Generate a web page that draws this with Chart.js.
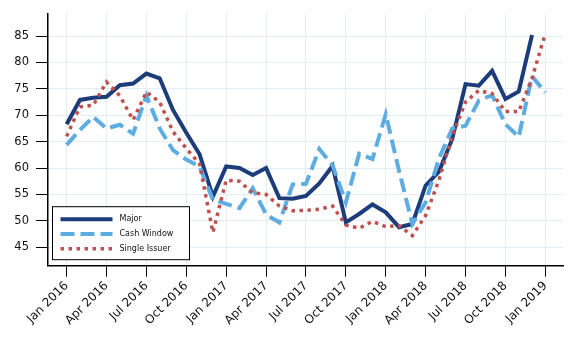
<!DOCTYPE html>
<html>
<head>
<meta charset="utf-8">
<script src="https://cdn.jsdelivr.net/npm/chart.js@4/dist/chart.umd.min.js"></script>
<style>
  html, body { margin: 0; padding: 0; background: #fff; }
  canvas { display: block; }
</style>
</head>
<body>
<canvas id="chart" width="577" height="338"></canvas>
<script>
// ===== Data =====
const months = [
  "Jan 2016","Feb 2016","Mar 2016","Apr 2016","May 2016","Jun 2016","Jul 2016","Aug 2016","Sep 2016","Oct 2016","Nov 2016","Dec 2016",
  "Jan 2017","Feb 2017","Mar 2017","Apr 2017","May 2017","Jun 2017","Jul 2017","Aug 2017","Sep 2017","Oct 2017","Nov 2017","Dec 2017",
  "Jan 2018","Feb 2018","Mar 2018","Apr 2018","May 2018","Jun 2018","Jul 2018","Aug 2018","Sep 2018","Oct 2018","Nov 2018","Dec 2018",
  "Jan 2019"
];
const major = [68.3, 72.9, 73.3, 73.5, 75.7, 76.0, 77.9, 77.0, 71.0, 66.7, 62.6, 54.6,
  60.3, 60.0, 58.7, 60.0, 54.3, 54.2, 54.7, 57.1, 60.4, 49.7, 51.3, 53.1,
  51.6, 48.8, 49.4, 56.7, 59.3, 65.5, 75.9, 75.6, 78.4, 73.1, 74.5, 85.2, null];
const cashWindow = [64.4, 67.2, 69.7, 67.5, 68.2, 66.5, 73.7, 67.5, 63.4, 61.6, 60.3, 54.0,
  53.2, 52.4, 56.2, 51.2, 49.7, 56.9, 57.0, 63.6, 60.5, 53.5, 62.7, 61.7,
  70.2, 59.5, 49.4, 53.5, 61.8, 67.5, 68.0, 72.8, 73.8, 68.3, 65.9, 77.4, 74.3];
const singleIssuer = [66.0, 71.6, 71.9, 76.3, 73.7, 69.1, 74.4, 72.5, 66.9, 63.7, 60.8, 47.8,
  57.7, 57.5, 55.3, 55.0, 52.8, 51.9, 52.0, 52.2, 52.8, 49.2, 48.6, 49.9,
  48.9, 49.1, 47.2, 51.0, 57.7, 66.1, 72.5, 74.7, 74.1, 70.7, 70.7, 77.0, 85.5];
const xTickLabels = ["Jan 2016","Apr 2016","Jul 2016","Oct 2016","Jan 2017","Apr 2017","Jul 2017",
  "Oct 2017","Jan 2018","Apr 2018","Jul 2018","Oct 2018","Jan 2019"];
const yTicks = [45, 50, 55, 60, 65, 70, 75, 80, 85];

const toPoints = arr => arr.map((v, i) => ({ x: i, y: v }));
const xTickPos = xTickLabels.map(l => months.indexOf(l));

// ===== Legend drawn inside plot, bottom-left =====
const boxLegend = {
  id: "boxLegend",
  afterDatasetsDraw(chart) {
    const { ctx, chartArea } = chart;
    const x = chartArea.left + 4.5, y = chartArea.bottom - 59;
    const w = 137, h = 53;
    ctx.save();
    ctx.fillStyle = "#fff";
    ctx.fillRect(x, y, w, h);
    ctx.strokeStyle = "#000";
    ctx.lineWidth = 1;
    ctx.strokeRect(x, y, w, h);
    ctx.font = "8px 'DejaVu Sans'";
    ctx.textBaseline = "middle";
    chart.data.datasets.forEach((ds, i) => {
      const ry = y + 12.5 + i * 14.8;
      ctx.beginPath();
      ctx.strokeStyle = ds.borderColor;
      ctx.lineWidth = ds.borderWidth;
      ctx.setLineDash(ds.borderDash || []);
      ctx.moveTo(x + 8, ry);
      ctx.lineTo(x + 60, ry);
      ctx.stroke();
      ctx.setLineDash([]);
      ctx.fillStyle = "#111";
      ctx.fillText(ds.label, x + 67, ry);
    });
    ctx.restore();
  }
};

// ===== Chart =====
const ctx = document.getElementById("chart").getContext("2d");
new Chart(ctx, {
  type: "line",
  data: {
    datasets: [
      { label: "Major", data: toPoints(major), borderColor: "#1c3d7a", borderWidth: 4, order: 3 },
      { label: "Cash Window", data: toPoints(cashWindow), borderColor: "#5dade2", borderWidth: 4, borderDash: [14, 6], order: 2 },
      { label: "Single Issuer", data: toPoints(singleIssuer), borderColor: "#c0504d", borderWidth: 3.5, borderDash: [3.5, 4.5], order: 1 }
    ]
  },
  options: {
    responsive: false,
    animation: false,
    devicePixelRatio: 1,
    layout: { padding: { top: 11, right: 14, left: 0, bottom: 0 } },
    elements: {
      point: { radius: 0 },
      line: { tension: 0, borderCapStyle: "butt", borderJoinStyle: "miter", fill: false }
    },
    scales: {
      x: {
        type: "linear",
        min: -1.4,
        max: 37.33,
        afterBuildTicks: axis => { axis.ticks = xTickPos.map(v => ({ value: v })); },
        afterFit: axis => { axis.height = 72.3; },
        ticks: {
          autoSkip: false,
          minRotation: 45,
          maxRotation: 45,
          padding: 2,
          color: "#111",
          font: { family: "DejaVu Sans", size: 12 },
          callback: v => months[v]
        },
        grid: { color: "#e3edf6", lineWidth: 1, tickColor: "#000", tickLength: 11 },
        border: { display: true, color: "#000", width: 1.5 }
      },
      y: {
        min: 41.5,
        max: 89.2,
        afterBuildTicks: axis => { axis.ticks = yTicks.map(v => ({ value: v })); },
        afterFit: axis => { axis.width = 48; },
        ticks: {
          padding: 7,
          color: "#111",
          font: { family: "DejaVu Sans", size: 11.5 }
        },
        grid: { color: "#e3edf6", lineWidth: 1, tickColor: "#000", tickLength: 12 },
        border: { display: true, color: "#000", width: 1.5 }
      }
    },
    plugins: {
      legend: { display: false },
      tooltip: { enabled: false }
    }
  },
  plugins: [boxLegend]
});
</script>
</body>
</html>
